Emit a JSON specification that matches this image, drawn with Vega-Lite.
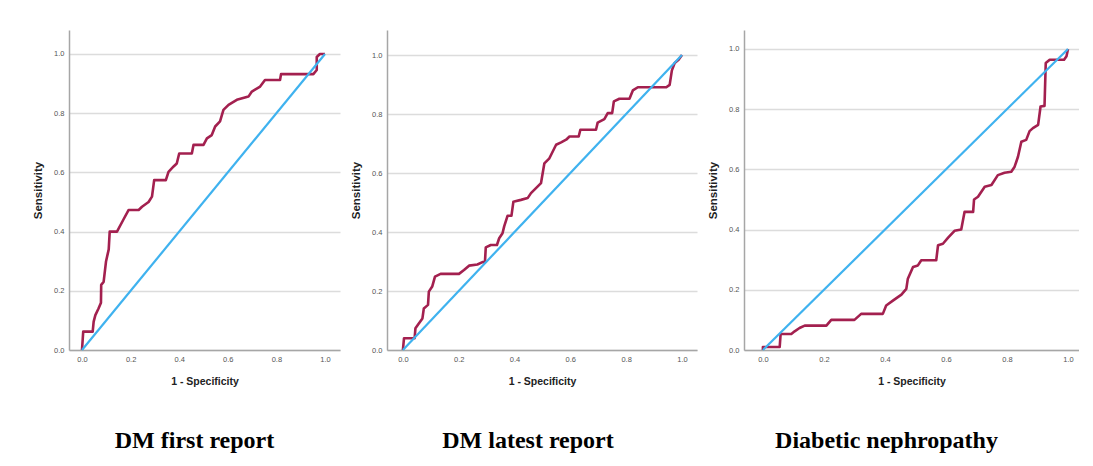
{
  "$schema": "https://vega.github.io/schema/vega-lite/v6.json",
  "padding": {"left": 32, "top": 30, "right": 0, "bottom": 0},
  "autosize": {"type": "pad"},
  "background": "white",
  "bounds": "flush",
  "spacing": 47,
  "config": {
    "view": {"stroke": null},
    "axis": {
      "labelFont": "Liberation Sans", "labelFontSize": 7.5, "labelColor": "#555555",
      "titleFont": "Liberation Sans", "titleFontWeight": "bold", "titleColor": "#222222",
      "domainColor": "#a6a6a6", "domainWidth": 1.5, "ticks": false, "labelPadding": 5,
      "format": ".1f", "labelFlush": false
    },
    "axisX": {"grid": false, "titlePadding": 14, "titleFontSize": 10.5},
    "axisY": {"grid": true, "gridColor": "#dcdcdc", "gridWidth": 1.5, "titlePadding": 10, "titleFontSize": 11.5},
    "title": {"font": "Liberation Serif", "fontSize": 24, "fontWeight": "bold", "color": "#000000", "orient": "bottom", "offset": 42, "anchor": "middle", "frame": "group"},
    "line": {"strokeJoin": "round"}
  },
  "datasets": {
    "diag": [{"fpr": 0, "sens": 0, "i": 0}, {"fpr": 1, "sens": 1, "i": 1}],
    "first": [
      {"i": 0, "fpr": 0, "sens": 0}, {"i": 1, "fpr": 0.005, "sens": 0.062}, {"i": 2, "fpr": 0.044, "sens": 0.062},
      {"i": 3, "fpr": 0.048, "sens": 0.096}, {"i": 4, "fpr": 0.055, "sens": 0.118}, {"i": 5, "fpr": 0.068, "sens": 0.14},
      {"i": 6, "fpr": 0.078, "sens": 0.16}, {"i": 7, "fpr": 0.079, "sens": 0.22}, {"i": 8, "fpr": 0.089, "sens": 0.23},
      {"i": 9, "fpr": 0.099, "sens": 0.3}, {"i": 10, "fpr": 0.11, "sens": 0.34}, {"i": 11, "fpr": 0.114, "sens": 0.4},
      {"i": 12, "fpr": 0.144, "sens": 0.4}, {"i": 13, "fpr": 0.17, "sens": 0.44}, {"i": 14, "fpr": 0.192, "sens": 0.473},
      {"i": 15, "fpr": 0.233, "sens": 0.473}, {"i": 16, "fpr": 0.247, "sens": 0.484}, {"i": 17, "fpr": 0.274, "sens": 0.5},
      {"i": 18, "fpr": 0.288, "sens": 0.518}, {"i": 19, "fpr": 0.297, "sens": 0.574}, {"i": 20, "fpr": 0.345, "sens": 0.574},
      {"i": 21, "fpr": 0.356, "sens": 0.602}, {"i": 22, "fpr": 0.377, "sens": 0.62}, {"i": 23, "fpr": 0.39, "sens": 0.63},
      {"i": 24, "fpr": 0.4, "sens": 0.664}, {"i": 25, "fpr": 0.452, "sens": 0.664}, {"i": 26, "fpr": 0.459, "sens": 0.693},
      {"i": 27, "fpr": 0.5, "sens": 0.693}, {"i": 28, "fpr": 0.514, "sens": 0.715}, {"i": 29, "fpr": 0.534, "sens": 0.726},
      {"i": 30, "fpr": 0.548, "sens": 0.755}, {"i": 31, "fpr": 0.568, "sens": 0.772}, {"i": 32, "fpr": 0.582, "sens": 0.811},
      {"i": 33, "fpr": 0.603, "sens": 0.828}, {"i": 34, "fpr": 0.637, "sens": 0.845}, {"i": 35, "fpr": 0.685, "sens": 0.856},
      {"i": 36, "fpr": 0.699, "sens": 0.873}, {"i": 37, "fpr": 0.733, "sens": 0.89}, {"i": 38, "fpr": 0.753, "sens": 0.912},
      {"i": 39, "fpr": 0.815, "sens": 0.912}, {"i": 40, "fpr": 0.819, "sens": 0.932}, {"i": 41, "fpr": 0.952, "sens": 0.932},
      {"i": 42, "fpr": 0.966, "sens": 0.946}, {"i": 43, "fpr": 0.966, "sens": 0.99}, {"i": 44, "fpr": 0.979, "sens": 1.0},
      {"i": 45, "fpr": 1.0, "sens": 1.0}
    ],
    "latest": [
      {"i": 0, "fpr": 0, "sens": 0}, {"i": 1, "fpr": 0.004, "sens": 0.04}, {"i": 2, "fpr": 0.042, "sens": 0.04},
      {"i": 3, "fpr": 0.045, "sens": 0.074}, {"i": 4, "fpr": 0.057, "sens": 0.09}, {"i": 5, "fpr": 0.07, "sens": 0.107},
      {"i": 6, "fpr": 0.075, "sens": 0.141}, {"i": 7, "fpr": 0.09, "sens": 0.153}, {"i": 8, "fpr": 0.093, "sens": 0.198},
      {"i": 9, "fpr": 0.105, "sens": 0.215}, {"i": 10, "fpr": 0.115, "sens": 0.249}, {"i": 11, "fpr": 0.135, "sens": 0.258},
      {"i": 12, "fpr": 0.201, "sens": 0.258}, {"i": 13, "fpr": 0.219, "sens": 0.271}, {"i": 14, "fpr": 0.237, "sens": 0.286},
      {"i": 15, "fpr": 0.267, "sens": 0.29}, {"i": 16, "fpr": 0.285, "sens": 0.298}, {"i": 17, "fpr": 0.294, "sens": 0.298},
      {"i": 18, "fpr": 0.297, "sens": 0.348}, {"i": 19, "fpr": 0.315, "sens": 0.356}, {"i": 20, "fpr": 0.337, "sens": 0.356},
      {"i": 21, "fpr": 0.345, "sens": 0.379}, {"i": 22, "fpr": 0.357, "sens": 0.396}, {"i": 23, "fpr": 0.363, "sens": 0.419},
      {"i": 24, "fpr": 0.375, "sens": 0.455}, {"i": 25, "fpr": 0.389, "sens": 0.455}, {"i": 26, "fpr": 0.396, "sens": 0.503},
      {"i": 27, "fpr": 0.423, "sens": 0.509}, {"i": 28, "fpr": 0.447, "sens": 0.515}, {"i": 29, "fpr": 0.459, "sens": 0.532},
      {"i": 30, "fpr": 0.477, "sens": 0.549}, {"i": 31, "fpr": 0.495, "sens": 0.566}, {"i": 32, "fpr": 0.507, "sens": 0.633},
      {"i": 33, "fpr": 0.525, "sens": 0.65}, {"i": 34, "fpr": 0.549, "sens": 0.696}, {"i": 35, "fpr": 0.567, "sens": 0.704},
      {"i": 36, "fpr": 0.585, "sens": 0.713}, {"i": 37, "fpr": 0.597, "sens": 0.724}, {"i": 38, "fpr": 0.63, "sens": 0.724},
      {"i": 39, "fpr": 0.636, "sens": 0.747}, {"i": 40, "fpr": 0.692, "sens": 0.747}, {"i": 41, "fpr": 0.698, "sens": 0.771},
      {"i": 42, "fpr": 0.722, "sens": 0.783}, {"i": 43, "fpr": 0.734, "sens": 0.803}, {"i": 44, "fpr": 0.75, "sens": 0.803},
      {"i": 45, "fpr": 0.756, "sens": 0.843}, {"i": 46, "fpr": 0.776, "sens": 0.852}, {"i": 47, "fpr": 0.812, "sens": 0.852},
      {"i": 48, "fpr": 0.824, "sens": 0.88}, {"i": 49, "fpr": 0.842, "sens": 0.891}, {"i": 50, "fpr": 0.944, "sens": 0.891},
      {"i": 51, "fpr": 0.956, "sens": 0.899}, {"i": 52, "fpr": 0.964, "sens": 0.948}, {"i": 53, "fpr": 0.974, "sens": 0.973},
      {"i": 54, "fpr": 0.988, "sens": 0.984}, {"i": 55, "fpr": 1.0, "sens": 1.0}
    ],
    "neph": [
      {"i": 0, "fpr": 0, "sens": 0}, {"i": 1, "fpr": 0, "sens": 0.01}, {"i": 2, "fpr": 0.055, "sens": 0.01},
      {"i": 3, "fpr": 0.058, "sens": 0.053}, {"i": 4, "fpr": 0.093, "sens": 0.053}, {"i": 5, "fpr": 0.104, "sens": 0.062},
      {"i": 6, "fpr": 0.12, "sens": 0.073}, {"i": 7, "fpr": 0.137, "sens": 0.081}, {"i": 8, "fpr": 0.208, "sens": 0.081},
      {"i": 9, "fpr": 0.224, "sens": 0.1}, {"i": 10, "fpr": 0.3, "sens": 0.1}, {"i": 11, "fpr": 0.322, "sens": 0.12},
      {"i": 12, "fpr": 0.393, "sens": 0.12}, {"i": 13, "fpr": 0.404, "sens": 0.148}, {"i": 14, "fpr": 0.426, "sens": 0.164},
      {"i": 15, "fpr": 0.454, "sens": 0.184}, {"i": 16, "fpr": 0.47, "sens": 0.203}, {"i": 17, "fpr": 0.475, "sens": 0.237},
      {"i": 18, "fpr": 0.492, "sens": 0.276}, {"i": 19, "fpr": 0.508, "sens": 0.281}, {"i": 20, "fpr": 0.519, "sens": 0.298},
      {"i": 21, "fpr": 0.568, "sens": 0.298}, {"i": 22, "fpr": 0.574, "sens": 0.348}, {"i": 23, "fpr": 0.59, "sens": 0.353},
      {"i": 24, "fpr": 0.607, "sens": 0.373}, {"i": 25, "fpr": 0.628, "sens": 0.396}, {"i": 26, "fpr": 0.65, "sens": 0.4},
      {"i": 27, "fpr": 0.661, "sens": 0.459}, {"i": 28, "fpr": 0.689, "sens": 0.459}, {"i": 29, "fpr": 0.692, "sens": 0.5},
      {"i": 30, "fpr": 0.705, "sens": 0.509}, {"i": 31, "fpr": 0.727, "sens": 0.542}, {"i": 32, "fpr": 0.749, "sens": 0.548},
      {"i": 33, "fpr": 0.77, "sens": 0.581}, {"i": 34, "fpr": 0.792, "sens": 0.589}, {"i": 35, "fpr": 0.814, "sens": 0.592},
      {"i": 36, "fpr": 0.825, "sens": 0.609}, {"i": 37, "fpr": 0.836, "sens": 0.642}, {"i": 38, "fpr": 0.847, "sens": 0.692},
      {"i": 39, "fpr": 0.863, "sens": 0.698}, {"i": 40, "fpr": 0.874, "sens": 0.727}, {"i": 41, "fpr": 0.885, "sens": 0.737},
      {"i": 42, "fpr": 0.902, "sens": 0.748}, {"i": 43, "fpr": 0.91, "sens": 0.809}, {"i": 44, "fpr": 0.923, "sens": 0.811},
      {"i": 45, "fpr": 0.927, "sens": 0.953}, {"i": 46, "fpr": 0.94, "sens": 0.964}, {"i": 47, "fpr": 0.987, "sens": 0.964},
      {"i": 48, "fpr": 0.995, "sens": 0.976}, {"i": 49, "fpr": 1.0, "sens": 1.0}
    ]
  },
  "hconcat": [
    {
      "width": 271, "height": 320,
      "title": {"text": "DM first report", "dx": -10},
      "encoding": {
        "x": {"field": "fpr", "type": "quantitative", "title": "1 - Specificity", "scale": {"domain": [-0.0535, 1.0617], "nice": false, "zero": false}, "axis": {"values": [0, 0.2, 0.4, 0.6, 0.8, 1.0]}},
        "y": {"field": "sens", "type": "quantitative", "title": "Sensitivity", "scale": {"domain": [0, 1.081], "nice": false}, "axis": {"values": [0, 0.2, 0.4, 0.6, 0.8, 1.0]}},
        "order": {"field": "i", "type": "quantitative"}
      },
      "layer": [
        {"data": {"name": "first"}, "mark": {"type": "line", "color": "#a3204f", "strokeWidth": 2.6}},
        {"data": {"name": "diag"}, "mark": {"type": "line", "color": "#3fb2ef", "strokeWidth": 2.2}}
      ]
    },
    {
      "width": 310, "height": 320,
      "title": {"text": "DM latest report", "dx": -14},
      "encoding": {
        "x": {"field": "fpr", "type": "quantitative", "title": "1 - Specificity", "scale": {"domain": [-0.057, 1.054], "nice": false, "zero": false}, "axis": {"values": [0, 0.2, 0.4, 0.6, 0.8, 1.0]}},
        "y": {"field": "sens", "type": "quantitative", "title": "Sensitivity", "scale": {"domain": [0, 1.085], "nice": false}, "axis": {"values": [0, 0.2, 0.4, 0.6, 0.8, 1.0]}},
        "order": {"field": "i", "type": "quantitative"}
      },
      "layer": [
        {"data": {"name": "latest"}, "mark": {"type": "line", "color": "#a3204f", "strokeWidth": 2.6}},
        {"data": {"name": "diag"}, "mark": {"type": "line", "color": "#3fb2ef", "strokeWidth": 2.2}}
      ]
    },
    {
      "width": 335, "height": 320,
      "title": {"text": "Diabetic nephropathy", "dx": -25},
      "encoding": {
        "x": {"field": "fpr", "type": "quantitative", "title": "1 - Specificity", "scale": {"domain": [-0.062, 1.036], "nice": false, "zero": false}, "axis": {"values": [0, 0.2, 0.4, 0.6, 0.8, 1.0]}},
        "y": {"field": "sens", "type": "quantitative", "title": "Sensitivity", "scale": {"domain": [0, 1.063], "nice": false}, "axis": {"values": [0, 0.2, 0.4, 0.6, 0.8, 1.0]}},
        "order": {"field": "i", "type": "quantitative"}
      },
      "layer": [
        {"data": {"name": "neph"}, "mark": {"type": "line", "color": "#a3204f", "strokeWidth": 2.6}},
        {"data": {"name": "diag"}, "mark": {"type": "line", "color": "#3fb2ef", "strokeWidth": 2.2}}
      ]
    }
  ]
}
